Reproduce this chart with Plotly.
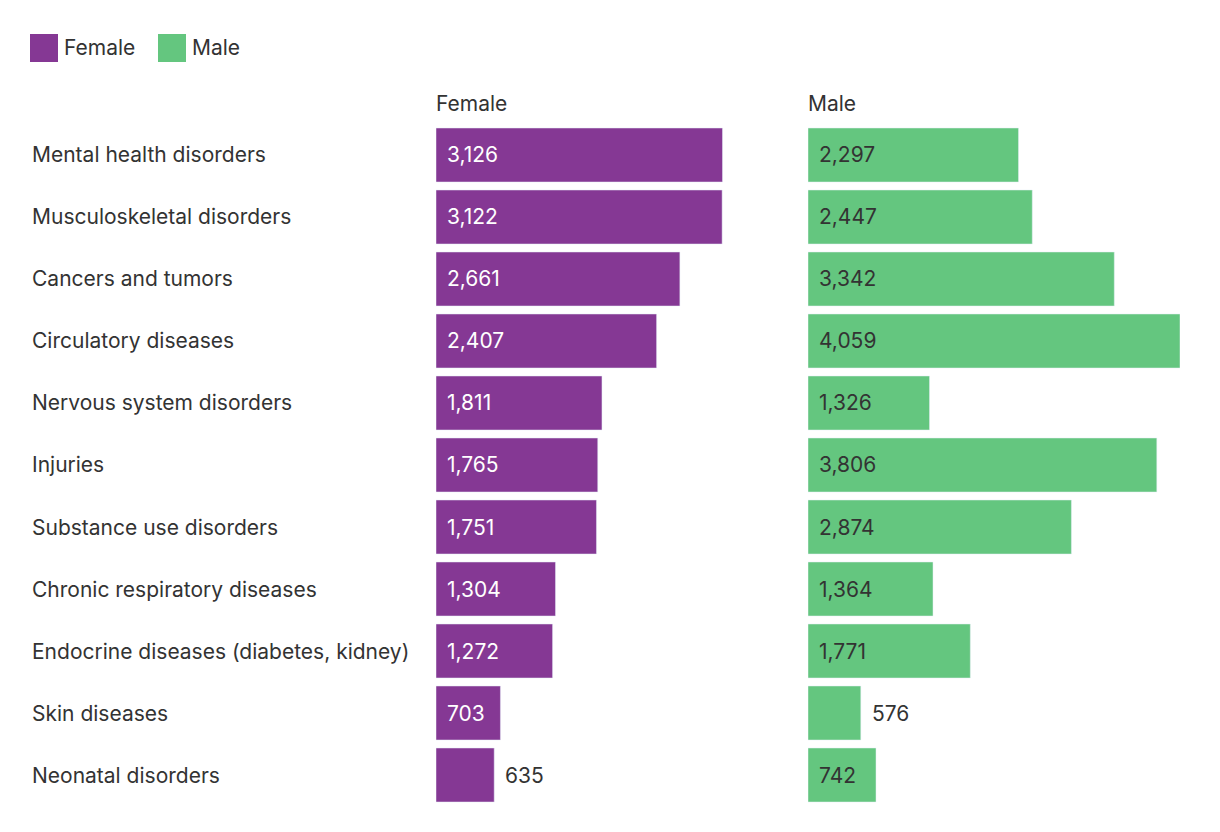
import plotly.graph_objects as go

categories = [
    "Mental health disorders",
    "Musculoskeletal disorders",
    "Cancers and tumors",
    "Circulatory diseases",
    "Nervous system disorders",
    "Injuries",
    "Substance use disorders",
    "Chronic respiratory diseases",
    "Endocrine diseases (diabetes, kidney)",
    "Skin diseases",
    "Neonatal disorders",
]
female = [3126, 3122, 2661, 2407, 1811, 1765, 1751, 1304, 1272, 703, 635]
male = [2297, 2447, 3342, 4059, 1326, 3806, 2874, 1364, 1771, 576, 742]

PURPLE = "#853894"
GREEN = "#64C67F"
TEXT = "#333333"
FONT = "Inter"
OFF = 8                      # page body margin
W, H = 1220 - OFF, 832 - OFF


def px(x):
    return (x - OFF) / W


def py(y):
    return 1 - (y - OFF) / H


fig = go.Figure()
fig.add_trace(go.Bar(y=categories, x=female, orientation="h", marker_color=PURPLE,
                     name="Female", xaxis="x", yaxis="y", showlegend=False,
                     hoverinfo="x+y"))
fig.add_trace(go.Bar(y=categories, x=male, orientation="h", marker_color=GREEN,
                     name="Male", xaxis="x2", yaxis="y2", showlegend=False,
                     hoverinfo="x+y"))

XMAX = 4059
SZ = 21
annotations = []
INSIDE_MIN = 680
for vals, xr, incol in ((female, "x", "white"), (male, "x2", TEXT)):
    for cat, v in zip(categories, vals):
        inside = v >= INSIDE_MIN
        annotations.append(dict(
            x=0 if inside else v, y=cat, xref=xr, yref="y",
            text=f"{v:,}", showarrow=False, xanchor="left", yanchor="middle",
            xshift=9,
            font=dict(family=FONT, size=SZ, color=incol if inside else TEXT),
        ))

for cat in categories:
    annotations.append(dict(
        x=px(30), y=cat, xref="paper", yref="y", text=cat, showarrow=False,
        xanchor="left", yanchor="middle",
        font=dict(family=FONT, size=SZ, color=TEXT)))

# panel headers
for label, xx in (("Female", 434), ("Male", 806)):
    annotations.append(dict(
        x=px(xx), y=py(104), xref="paper", yref="paper", text=label,
        showarrow=False, xanchor="left", yanchor="middle",
        font=dict(family=FONT, size=SZ, color=TEXT)))

# legend
shapes = []
for label, col, xx in (("Female", PURPLE, 30), ("Male", GREEN, 158)):
    shapes.append(dict(type="rect", xref="paper", yref="paper",
                       x0=px(xx), x1=px(xx + 28), y0=py(62), y1=py(34),
                       fillcolor=col, line=dict(width=0)))
    annotations.append(dict(
        x=px(xx + 32), y=py(48), xref="paper", yref="paper", text=label,
        showarrow=False, xanchor="left", yanchor="middle",
        font=dict(family=FONT, size=SZ, color=TEXT)))

axis_common = dict(showgrid=False, zeroline=False, showticklabels=False,
                   showline=False, ticks="", fixedrange=True)
fig.update_layout(
    width=W, height=H,
    margin=dict(l=0, r=0, t=0, b=0),
    paper_bgcolor="white", plot_bgcolor="white",
    bargap=8 / 62,
    xaxis=dict(domain=[px(436), px(808)], range=[0, XMAX], anchor="y", **axis_common),
    xaxis2=dict(domain=[px(808), px(1180)], range=[0, XMAX], anchor="y2", **axis_common),
    yaxis=dict(domain=[py(806), py(124)], autorange="reversed", categoryorder="array",
               categoryarray=categories, anchor="x", **axis_common),
    yaxis2=dict(domain=[py(806), py(124)], autorange="reversed", categoryorder="array",
                categoryarray=categories, anchor="x2", matches="y", **axis_common),
    annotations=annotations,
    shapes=shapes,
    font=dict(family=FONT, color=TEXT),
)
fig.write_html("out.html")
